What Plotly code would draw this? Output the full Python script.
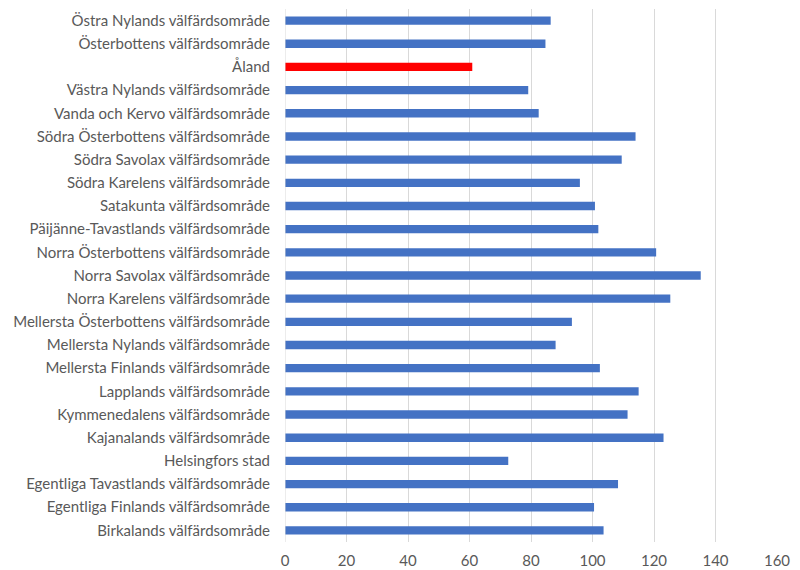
import plotly.graph_objects as go

regions = [
    "Östra Nylands välfärdsområde",
    "Österbottens välfärdsområde",
    "Åland",
    "Västra Nylands välfärdsområde",
    "Vanda och Kervo välfärdsområde",
    "Södra Österbottens välfärdsområde",
    "Södra Savolax välfärdsområde",
    "Södra Karelens välfärdsområde",
    "Satakunta välfärdsområde",
    "Päijänne-Tavastlands välfärdsområde",
    "Norra Österbottens välfärdsområde",
    "Norra Savolax välfärdsområde",
    "Norra Karelens välfärdsområde",
    "Mellersta Österbottens välfärdsområde",
    "Mellersta Nylands välfärdsområde",
    "Mellersta Finlands välfärdsområde",
    "Lapplands välfärdsområde",
    "Kymmenedalens välfärdsområde",
    "Kajanalands välfärdsområde",
    "Helsingfors stad",
    "Egentliga Tavastlands välfärdsområde",
    "Egentliga Finlands välfärdsområde",
    "Birkalands välfärdsområde",
]
values = [86.4, 84.7, 60.9, 79.1, 82.5, 114.0, 109.5, 95.9, 100.8, 101.9,
          120.7, 135.2, 125.3, 93.3, 88.0, 102.4, 115.0, 111.4, 123.1, 72.6,
          108.3, 100.5, 103.6]
highlight = "Åland"
tick_values = [0, 20, 40, 60, 80, 100, 120, 140, 160]

colors = ["#FF0000" if r == highlight else "#4472C4" for r in regions]

fig = go.Figure(go.Bar(
    x=values, y=regions, orientation="h",
    marker=dict(color=colors, line=dict(width=0)),
    hoverinfo="x+y",
))

fig.update_layout(
    width=792, height=562,
    margin=dict(l=277, r=23, t=1, b=28),
    paper_bgcolor="white", plot_bgcolor="white",
    bargap=0.64,
    showlegend=False,
    font=dict(family="Lato, Open Sans, sans-serif", size=15, color="#595959"),
)
fig.update_xaxes(
    range=[0, 160], tickvals=tick_values,
    showgrid=True, gridcolor="#D9D9D9", gridwidth=1,
    zeroline=False, showline=False,
    tickfont=dict(size=15, color="#595959"),
    ticks="", ticklabelstandoff=8,
)
fig.update_yaxes(
    autorange="reversed", showgrid=False, zeroline=False,
    showline=False, ticks="", ticklabelstandoff=14,
    tickfont=dict(size=15, color="#595959"),
)
fig.add_shape(type="line", xref="x", yref="paper", x0=0, x1=0, y0=0, y1=1,
              line=dict(color="#D9D9D9", width=1))

fig.write_html("out.html")
